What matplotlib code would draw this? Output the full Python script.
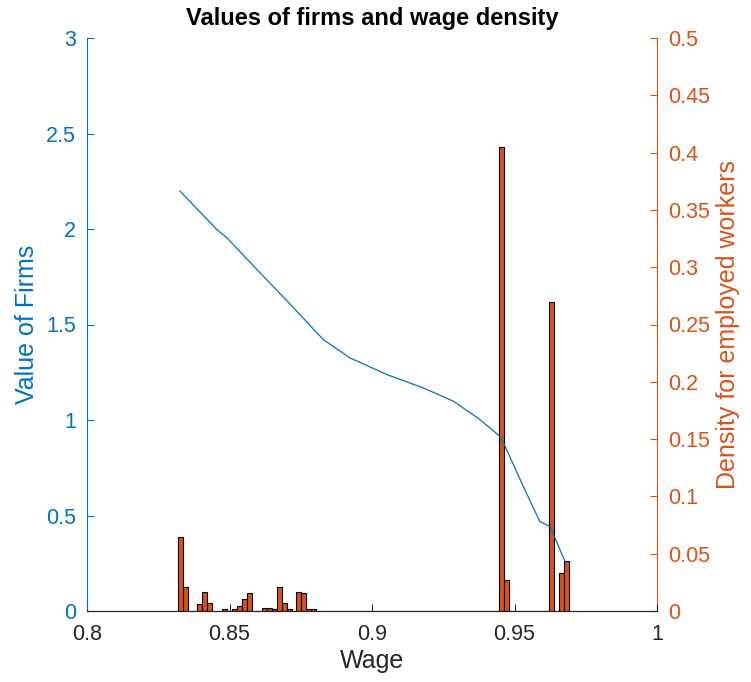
import numpy as np
import matplotlib
matplotlib.use('Agg')
import matplotlib.pyplot as plt

plt.rcParams['font.family'] = ['Liberation Sans', 'DejaVu Sans']

# ── data ─────────────────────────────────────────────────────────────────────
wage_line = [0.8326, 0.8455, 0.8490, 0.8607, 0.8736, 0.8829, 0.8923, 0.9052,
             0.9180, 0.9286, 0.9379, 0.9449, 0.9467, 0.9531, 0.9589, 0.9625,
             0.9680]
firm_value = [2.199, 1.998, 1.955, 1.771, 1.570, 1.421, 1.325, 1.238,
              1.168, 1.098, 1.002, 0.914, 0.862, 0.652, 0.468, 0.442,
              0.250]

# histogram: 79 equal bins starting at bin_start
bin_start = 0.83182
bin_width = 0.001737
density = [0.065, 0.021, 0, 0, 0.006, 0.017, 0.007, 0, 0, 0.002,
           0, 0.002, 0.0045, 0.0105, 0.0155, 0, 0, 0.003, 0.003, 0.002,
           0.021, 0.007, 0.002, 0, 0.017, 0.0155, 0.0015, 0.0015, 0, 0,
           0, 0, 0, 0, 0, 0, 0, 0, 0, 0,
           0, 0, 0, 0, 0, 0, 0, 0, 0, 0,
           0, 0, 0, 0, 0, 0, 0, 0, 0, 0,
           0, 0, 0, 0, 0, 0.405, 0.027, 0, 0, 0,
           0, 0, 0, 0, 0, 0.270, 0, 0.033, 0.0435]

x_ticks = [0.8, 0.85, 0.9, 0.95, 1.0]
x_labels = ['0.8', '0.85', '0.9', '0.95', '1']
left_ticks = [0, 0.5, 1, 1.5, 2, 2.5, 3]
left_labels = ['0', '0.5', '1', '1.5', '2', '2.5', '3']
right_ticks = [0, 0.05, 0.1, 0.15, 0.2, 0.25, 0.3, 0.35, 0.4, 0.45, 0.5]
right_labels = ['0', '0.05', '0.1', '0.15', '0.2', '0.25', '0.3', '0.35',
                '0.4', '0.45', '0.5']

BLUE = '#0072BD'
ORANGE = '#D95319'
DARK = '#262626'

fig = plt.figure(figsize=(7.51, 6.82), dpi=100)
ax = fig.add_axes([87 / 751, 71 / 682, 570 / 751, 573 / 682])
ax2 = ax.twinx()

# ── histogram on the right axis ──────────────────────────────────────────────
edges = bin_start + bin_width * np.arange(len(density))
ax2.bar(edges, density, width=bin_width, align='edge', color=ORANGE,
        edgecolor='black', linewidth=0.8, zorder=2)

# ── value line on the left axis ──────────────────────────────────────────────
ax.plot(wage_line, firm_value, color=BLUE, linewidth=0.9, zorder=3)
ax.set_zorder(ax2.get_zorder() + 1)
ax.patch.set_visible(False)

ax.set_xlim(0.8, 1.0)
ax.set_ylim(0, 3)
ax2.set_ylim(0, 0.5)

ax.set_xticks(x_ticks)
ax.set_xticklabels(x_labels)
ax.set_yticks(left_ticks)
ax.set_yticklabels(left_labels)
ax2.set_yticks(right_ticks)
ax2.set_yticklabels(right_labels)

fs = 15.5
ax.tick_params(axis='x', direction='in', length=5, colors=DARK, labelsize=fs,
               pad=9)
ax.tick_params(axis='y', direction='in', length=5, colors=BLUE, labelsize=fs,
               pad=8)
ax2.tick_params(axis='y', direction='in', length=5, colors=ORANGE,
                labelsize=fs, pad=8)

for a in (ax, ax2):
    a.spines['top'].set_visible(False)
    a.spines['bottom'].set_color(DARK)
ax.spines['left'].set_color(BLUE)
ax.spines['right'].set_visible(False)
ax2.spines['right'].set_color(ORANGE)
ax2.spines['left'].set_visible(False)

ax.set_xlabel('Wage', fontsize=18, color=DARK, labelpad=3)
ax.set_ylabel('Value of Firms', fontsize=18, color=BLUE, labelpad=5)
ax2.set_ylabel('Density for employed workers', fontsize=18,
               color=ORANGE, labelpad=4)
ax.set_title('Values of firms and wage density', fontsize=17,
             fontweight='bold', pad=9)

fig.savefig('out.png', dpi=100)
